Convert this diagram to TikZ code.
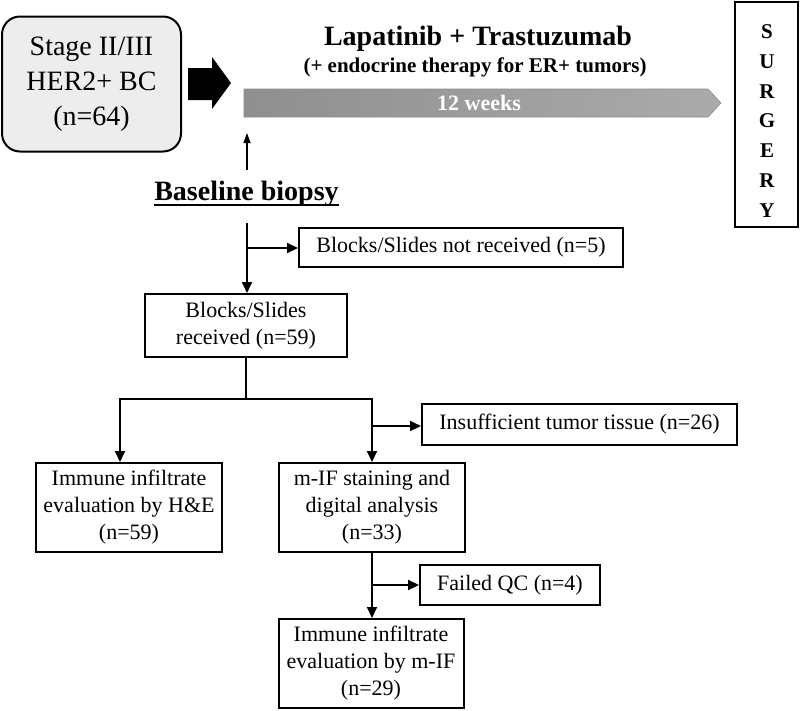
\documentclass[tikz,border=0pt]{standalone}
\usepackage{fontspec}
\setmainfont{Liberation Serif}
\usetikzlibrary{arrows.meta,calc}
\begin{document}
\begin{tikzpicture}[x=1pt,y=-1pt,
  box/.style={draw,line width=2pt,align=center,font=\fontsize{22}{27}\selectfont,inner sep=0pt},
  conn/.style={line width=2pt,-{Triangle[length=11pt,width=10pt]}},
  plain/.style={line width=2pt},
  boldtxt/.style={font=\bfseries\fontsize{#1}{#1}\selectfont}]
\useasboundingbox (0,0) rectangle (800,710);

% patient box
\node[box,rounded corners=18pt,fill=black!7,minimum width=179pt,minimum height=135pt,
      font=\fontsize{28}{35}\selectfont] (stage) at (91.5,84) {Stage II/III\\HER2+ BC\\(n=64)};

% block arrow
\fill (188,68) -- (212,68) -- (212,57) -- (231,83) -- (212,109) -- (212,100) -- (188,100) -- cycle;

% treatment bar
\shade[left color=black!44,right color=black!33,draw=black!45,line width=0.6pt]
  (244,89) -- (708,89) -- (721,103) -- (708,117) -- (244,117) -- cycle;
\node[text=white,boldtxt=22] (weeks) at (479,103) {12 weeks};

\node[boldtxt=28] (drug) at (478,39) {Lapatinib + Trastuzumab};
\node[boldtxt=21] (endo) at (475,67) {(+ endocrine therapy for ER+ tumors)};

% surgery
\node[draw,line width=2pt,minimum width=63pt,minimum height=225pt,inner sep=0pt] (surg) at (766.5,114.5) {};
\node[font=\bfseries\fontsize{21}{29.7}\selectfont,align=center] (surgtxt) at (767,121) {S\\U\\R\\G\\E\\R\\Y};

% baseline biopsy
\node[boldtxt=28,inner sep=0pt] (bb) at (246.5,194) {Baseline biopsy};
\draw[line width=2pt] ($(bb.base west)+(0,4)$) -- ($(bb.base east)+(0,4)$);
\coordinate (upfoot) at (247,170);
\coordinate (uptip) at (247,133);
\draw[line width=1.3pt,-{Triangle[length=10pt,width=7pt]}] (upfoot) -- (uptip);

% boxes
\node[box,minimum width=324pt,minimum height=39pt] (nr) at (461,247.5) {Blocks/Slides not received (n=5)};
\node[box,minimum width=202pt,minimum height=63pt] (rec) at (246,325.5) {Blocks/Slides\\received (n=59)};
\node[box,minimum width=315pt,minimum height=41pt] (ins) at (579.5,424.5) {Insufficient tumor tissue (n=26)};
\node[box,minimum width=186pt,minimum height=89pt] (he) at (129,507.5) {Immune infiltrate\\evaluation by H\&E\\(n=59)};
\node[box,minimum width=186pt,minimum height=89pt] (mif) at (372,507.5) {m-IF staining and\\digital analysis\\(n=33)};
\node[box,minimum width=180pt,minimum height=40pt] (qc) at (510,585) {Failed QC (n=4)};
\node[box,minimum width=185pt,minimum height=89pt] (fin) at (371,663.5) {Immune infiltrate\\evaluation by m-IF\\(n=29)};

% connectors
\coordinate (bbfoot) at (247,223);
\draw[conn] (bbfoot) -- (bbfoot |- rec.north);
\coordinate (nrsplit) at (247,248);
\draw[conn] (nrsplit) -- (nrsplit -| nr.west);

\coordinate (hub) at (246,399);
\coordinate (hl) at (120,399);
\coordinate (hr) at (372,399);
\draw[plain] (rec.south) -- (hub);
\draw[conn] (hub) -- (hl) -- (hl |- he.north);
\draw[conn] (hub) -- (hr) -- (hr |- mif.north);
\coordinate (inssplit) at (372,426);
\draw[conn] (inssplit) -- (inssplit -| ins.west);

\draw[conn] (mif.south) -- (mif.south |- fin.north);
\coordinate (qcsplit) at (372,585);
\draw[conn] (qcsplit) -- (qcsplit -| qc.west);
\end{tikzpicture}
\end{document}
